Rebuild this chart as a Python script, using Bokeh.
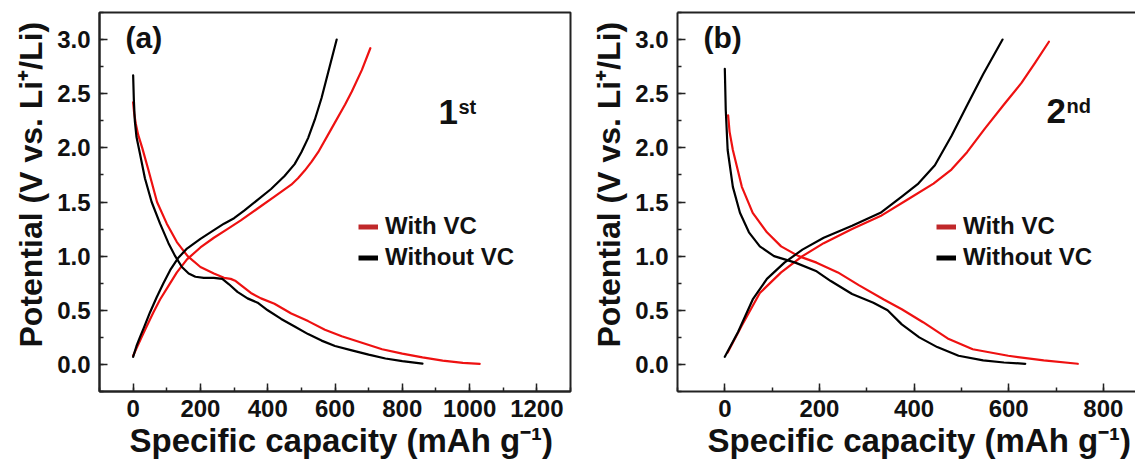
import math
import numpy as np
from bokeh.plotting import figure
from bokeh.models import (Range1d, SingleIntervalTicker, NumeralTickFormatter, Label, Title,
                          Legend, LegendItem, LinearAxis, FixedTicker)
from bokeh.layouts import row
from bokeh.embed import file_html
from bokeh.resources import INLINE

FONT = "Liberation Sans"
RED = "#ee1111"
LEG_RED = "#c0282a"
BLACK = "#000000"
AXC = "#222222"

# ---------------- data: panel (a) 1st cycle ----------------
a_dis_wo_x = [0, 2, 5, 10, 20, 35, 55, 80, 105, 125, 145, 165, 185, 210, 240, 265, 285, 310, 340, 370,
              400, 440, 480, 520, 560, 600, 650, 700, 750, 800, 860]
a_dis_wo_y = [2.67, 2.45, 2.25, 2.10, 1.95, 1.72, 1.50, 1.30, 1.12, 1.00, 0.90, 0.84, 0.81, 0.80, 0.80,
              0.79, 0.74, 0.67, 0.61, 0.57, 0.50, 0.42, 0.35, 0.28, 0.22, 0.17, 0.13, 0.09, 0.055, 0.03, 0.008]
a_dis_w_x = [0, 3, 8, 15, 27, 45, 71, 100, 130, 162, 200, 240, 270, 290, 305, 325, 350, 380, 420, 470,
             520, 570, 620, 680, 740, 800, 860, 920, 980, 1030]
a_dis_w_y = [2.42, 2.32, 2.22, 2.12, 2.00, 1.80, 1.50, 1.30, 1.13, 1.00, 0.90, 0.84, 0.80, 0.79, 0.77,
             0.72, 0.66, 0.61, 0.56, 0.47, 0.40, 0.32, 0.26, 0.20, 0.14, 0.10, 0.065, 0.035, 0.015, 0.005]
a_chg_wo_x = [0, 10, 20, 32, 50, 70, 90, 110, 133, 160, 200, 240, 270, 300, 330, 370, 410, 450, 480,
              500, 520, 540, 560, 580, 605]
a_chg_wo_y = [0.07, 0.17, 0.25, 0.34, 0.48, 0.62, 0.75, 0.87, 0.98, 1.07, 1.16, 1.24, 1.30, 1.35, 1.42,
              1.52, 1.62, 1.74, 1.85, 1.96, 2.09, 2.26, 2.46, 2.70, 3.00]
a_chg_w_x = [0, 10, 25, 40, 60, 80, 100, 130, 160, 200, 240, 280, 320, 370, 420, 470, 490, 510, 530,
             550, 590, 630, 650, 680, 705]
a_chg_w_y = [0.08, 0.15, 0.25, 0.35, 0.48, 0.60, 0.70, 0.85, 0.97, 1.08, 1.17, 1.25, 1.33, 1.44, 1.55,
             1.66, 1.72, 1.79, 1.87, 1.96, 2.18, 2.40, 2.52, 2.72, 2.92]

# ---------------- data: panel (b) 2nd cycle ----------------
b_dis_wo_x = [0, 2, 6, 17, 32, 51, 74, 104, 149, 194, 224, 269, 314, 344, 374, 411, 449, 494, 546, 590, 635]
b_dis_wo_y = [2.73, 2.35, 1.98, 1.64, 1.40, 1.22, 1.09, 1.00, 0.94, 0.86, 0.77, 0.65, 0.57, 0.50, 0.37,
              0.25, 0.16, 0.08, 0.037, 0.018, 0.006]
b_dis_w_x = [7, 10, 17, 36, 59, 89, 119, 156, 194, 239, 284, 336, 374, 419, 471, 524, 599, 674, 746]
b_dis_w_y = [2.30, 2.15, 1.98, 1.64, 1.40, 1.22, 1.09, 1.00, 0.94, 0.85, 0.73, 0.60, 0.51, 0.39, 0.24,
             0.14, 0.08, 0.037, 0.006]
b_chg_wo_x = [0, 28, 59, 89, 126, 164, 209, 269, 329, 374, 409, 444, 479, 514, 546, 587]
b_chg_wo_y = [0.07, 0.30, 0.60, 0.79, 0.94, 1.06, 1.17, 1.28, 1.40, 1.55, 1.67, 1.84, 2.11, 2.41, 2.68, 3.00]
b_chg_w_x = [6, 36, 74, 119, 164, 209, 269, 329, 389, 441, 479, 512, 550, 590, 627, 655, 685]
b_chg_w_y = [0.11, 0.36, 0.66, 0.85, 1.00, 1.12, 1.25, 1.37, 1.53, 1.67, 1.80, 1.96, 2.18, 2.40, 2.60,
             2.78, 2.98]

series_labels = ["With VC", "Without VC"]
x_title = "Specific capacity (mAh g\u207b\u00b9)"
y_title = "Potential (V vs. Li\u207a/Li)"
x_tick_step = 200
y_tick_step = 0.5
y_min, y_max = -0.25, 3.25


def style_axis(ax):
    ax.axis_line_color = AXC
    ax.axis_line_width = 2
    ax.major_tick_in = 8
    ax.major_tick_out = 0
    ax.minor_tick_in = 4
    ax.minor_tick_out = 0
    ax.major_tick_line_color = AXC
    ax.major_tick_line_width = 1.5
    ax.minor_tick_line_color = AXC
    ax.minor_tick_line_width = 1.5
    ax.major_label_text_font = FONT
    ax.major_label_text_font_style = "bold"
    ax.major_label_text_font_size = "24px"
    ax.major_label_text_color = "#111111"


def make_panel(width, height, b_left, b_right, b_bottom, x_start, x_end, curves, tag, cyc_num,
               cyc_sup, cyc_pos, full_box):
    p = figure(width=width, height=height, output_backend="svg", toolbar_location=None,
               x_range=Range1d(x_start, x_end), y_range=Range1d(y_min, y_max),
               min_border_left=b_left, min_border_right=b_right, min_border_top=12,
               min_border_bottom=b_bottom, background_fill_color="white",
               border_fill_color="white")
    p.grid.visible = False
    xa = p.below[0]
    ya = p.left[0]
    xa.ticker = SingleIntervalTicker(interval=x_tick_step, num_minor_ticks=2)
    ya.ticker = SingleIntervalTicker(interval=y_tick_step, num_minor_ticks=2)
    xa.formatter = NumeralTickFormatter(format="0")
    ya.formatter = NumeralTickFormatter(format="0.0")
    style_axis(xa)
    style_axis(ya)
    ya.major_label_standoff = 9
    xa.major_label_standoff = 8

    if full_box:
        p.outline_line_color = AXC
        p.outline_line_width = 2
    else:
        p.outline_line_color = None
        top = LinearAxis(ticker=FixedTicker(ticks=[]), axis_line_color=AXC, axis_line_width=2,
                         major_tick_line_color=None, minor_tick_line_color=None)
        p.add_layout(top, "above")

    for (xs, ys, col) in curves:
        p.line(xs, ys, line_color=col, line_width=2.2, line_join="round", line_cap="round")

    # legend proxies (no visible data, thick sample lines as in the original key)
    r_w = p.line(x=[np.nan], y=[np.nan], line_color=LEG_RED, line_width=5)
    r_wo = p.line(x=[np.nan], y=[np.nan], line_color=BLACK, line_width=5)
    leg = Legend(items=[LegendItem(label=series_labels[0], renderers=[r_w]),
                        LegendItem(label=series_labels[1], renderers=[r_wo])],
                 location=(259, 120), glyph_width=20, glyph_height=25, label_height=25,
                 label_standoff=7, spacing=3, padding=0, margin=0,
                 border_line_color=None, background_fill_alpha=0,
                 label_text_font=FONT, label_text_font_style="bold",
                 label_text_font_size="24px", label_text_color="#111111")
    p.add_layout(leg)

    common = dict(x_units="screen", y_units="screen", text_font=FONT, text_font_style="bold",
                  text_color="#111111")
    p.add_layout(Label(x=26, y=338, text=tag, text_font_size="30px", **common))
    cx, cy = cyc_pos
    p.add_layout(Label(x=cx, y=cy, text=cyc_num, text_font_size="35px", **common))
    p.add_layout(Label(x=cx + 20, y=cy + 6, text=cyc_sup, text_font_size="20px", **common))

    tcommon = dict(text_font=FONT, text_font_style="bold", text_color="#111111", align="left")
    p.add_layout(Title(text=x_title, offset=30, standoff=0, text_font_size="33px", **tcommon), "below")
    p.add_layout(Title(text=y_title, offset=44, standoff=12, text_font_size="32px", **tcommon), "left")
    return p


curves_a = [(a_dis_w_x, a_dis_w_y, RED), (a_chg_w_x, a_chg_w_y, RED),
            (a_dis_wo_x, a_dis_wo_y, BLACK), (a_chg_wo_x, a_chg_wo_y, BLACK)]
curves_b = [(b_dis_w_x, b_dis_w_y, RED), (b_chg_w_x, b_chg_w_y, RED),
            (b_dis_wo_x, b_dis_wo_y, BLACK), (b_chg_wo_x, b_chg_wo_y, BLACK)]

p1 = make_panel(575, 466, 99, 5, 75, -100, 1300, curves_a, "(a)", "1", "st", (339, 268), True)
p2 = make_panel(560, 466, 102, 0, 74, -100, 868, curves_b, "(b)", "2", "nd", (369, 269), False)

layout = row(p1, p2)
open("out.html", "w").write(file_html(layout, INLINE))
